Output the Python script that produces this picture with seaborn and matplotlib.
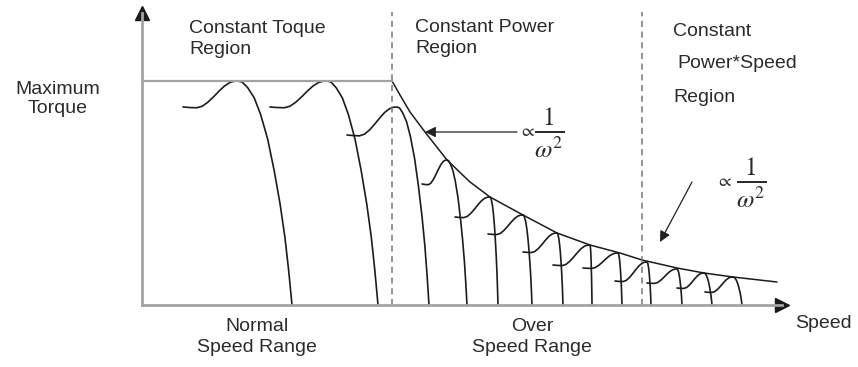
import matplotlib
matplotlib.use('Agg')
import matplotlib.pyplot as plt
import seaborn as sns
import pandas as pd
import numpy as np

# ---- data (speed / torque in arbitrary units) ----
base_speed = 250          # end of constant torque region
second_speed = 500        # start of constant power*speed region
max_torque = 224

# individual torque-speed curves: start of hump, peak, zero crossing
start_speed = [41, 128, 205, 280, 313, 346, 381, 411, 441, 473, 505, 535, 563]
start_torque = [198, 198, 170, 121, 88, 71, 53, 40, 37, 24, 22, 17, 13]
peak_speed = [96, 185, 255, 305, 348, 381, 415, 448, 476, 505, 535, 562, 591]
peak_torque = [224, 224, 198, 145, 108, 90, 72, 60, 52, 43, 36, 32, 28]
zero_speed = [150, 236, 287, 325, 356, 390, 421, 450, 480, 509, 540, 570, 600]

# shape of one curve (normalised)
rise_x = [0, 0.12, 0.25, 0.35, 0.45, 0.55, 0.65, 0.75, 0.85, 0.93, 1.0]
rise_y = [0, -0.02, -0.03, 0.03, 0.18, 0.38, 0.6, 0.8, 0.94, 0.99, 1.0]
fall_x = [0, 0.08, 0.18, 0.3, 0.42, 0.55, 0.67, 0.78, 0.87, 0.94, 1.0]
fall_y = [1, 0.995, 0.97, 0.925, 0.85, 0.74, 0.6, 0.45, 0.3, 0.15, 0]

# envelope falling like 1/w^2
env_speed = [250, 258, 268, 283, 305, 328, 348, 381, 415, 448, 478, 500,
             535, 562, 591, 635]
env_torque = [224, 210, 193, 173, 145, 123, 108, 90, 72, 60, 52, 45,
              37, 32, 28, 23]

sns.set_theme(style="white")
plt.rcParams['font.family'] = ['Liberation Sans', 'DejaVu Sans']
plt.rcParams['mathtext.fontset'] = 'stix'

TXT = '#2b2b2b'
CURVE = '#1c1c1c'
AXIS = '#a3a3a3'


def build_curves() -> pd.DataFrame:
    rows = []
    for i in range(len(start_speed)):
        s0, t0 = start_speed[i], start_torque[i]
        sp, tp = peak_speed[i], peak_torque[i]
        sz = zero_speed[i]
        for u, v in zip(rise_x, rise_y):
            rows.append((i, s0 + (sp - s0) * u, t0 + (tp - t0) * v))
        for u, v in zip(fall_x[1:], fall_y[1:]):
            rows.append((i, sp + (sz - sp) * u, tp * v))
    return pd.DataFrame(rows, columns=['curve', 'speed', 'torque'])


df = build_curves()

fig = plt.figure(figsize=(8.58, 3.67), dpi=100)
ax = fig.add_axes([142 / 858, 62 / 367, 640 / 858, 292 / 367])
ax.set_xlim(0, 640)
ax.set_ylim(0, 292)

sns.lineplot(data=df, x='speed', y='torque', units='curve',
             estimator=None, sort=False, color=CURVE, lw=1.2, ax=ax)
sns.lineplot(x=env_speed, y=env_torque, color=CURVE, lw=1.1,
             sort=False, ax=ax)
ax.plot([0, base_speed], [max_torque, max_torque], color=AXIS, lw=1.6)

for s in (base_speed, second_speed):
    ax.plot([s, s], [0, 293], color='#777777', lw=1.1,
            dashes=(4, 3), clip_on=False)

# axes with arrow heads
for side in ['top', 'right']:
    ax.spines[side].set_visible(False)
for side in ['left', 'bottom']:
    ax.spines[side].set_color(AXIS)
    ax.spines[side].set_linewidth(2)
ax.set_xticks([])
ax.set_yticks([])
ax.set_xlabel('')
ax.set_ylabel('')
ax.plot(1, 0, '>', color='k', ms=10, transform=ax.transAxes, clip_on=False)
ax.plot(0, 1, '^', color='k', ms=10, transform=ax.transAxes, clip_on=False)

# region labels
fs = 14
ax.text(47, 266, 'Constant Toque\nRegion', fontsize=fs, color=TXT,
        ha='left', va='center', linespacing=1.25)
ax.text(273, 267, 'Constant Power\nRegion', fontsize=fs, color=TXT,
        ha='left', va='center', linespacing=1.25)
ax.text(531, 273, 'Constant', fontsize=fs, color=TXT, ha='left', va='center')
ax.text(535, 242, 'Power*Speed', fontsize=fs, color=TXT, ha='left', va='center')
ax.text(531, 207, 'Region', fontsize=fs, color=TXT, ha='left', va='center')
ax.text(-84, 206, 'Maximum\nTorque', fontsize=fs, color=TXT,
        ha='center', va='center', linespacing=1.15)
ax.text(115, -32, 'Normal\nSpeed Range', fontsize=fs, color=TXT,
        ha='center', va='center', linespacing=1.25, clip_on=False)
ax.text(390, -32, 'Over\nSpeed Range', fontsize=fs, color=TXT,
        ha='center', va='center', linespacing=1.25, clip_on=False)
ax.text(653, -18, 'Speed', fontsize=fs, color=TXT,
        ha='left', va='center', clip_on=False)

# 1/w^2 annotations
arrow = dict(arrowstyle='-|>', color='#222222', lw=0.9,
             mutation_scale=16, shrinkA=0, shrinkB=0)
ax.annotate('', xy=(283, 173), xytext=(375, 173), arrowprops=arrow)
ax.text(377, 174, r'$\propto$', fontsize=13, color=TXT,
        ha='left', va='center')
ax.text(407, 172, r'$\frac{1}{\omega^2}$', fontsize=26, color=TXT,
        ha='center', va='center')
ax.annotate('', xy=(518, 63), xytext=(550, 123), arrowprops=arrow)
ax.text(574, 124, r'$\propto$', fontsize=13, color=TXT,
        ha='left', va='center')
ax.text(609, 122, r'$\frac{1}{\omega^2}$', fontsize=26, color=TXT,
        ha='center', va='center')

fig.savefig('out.png', dpi=100)
plt.close(fig)
